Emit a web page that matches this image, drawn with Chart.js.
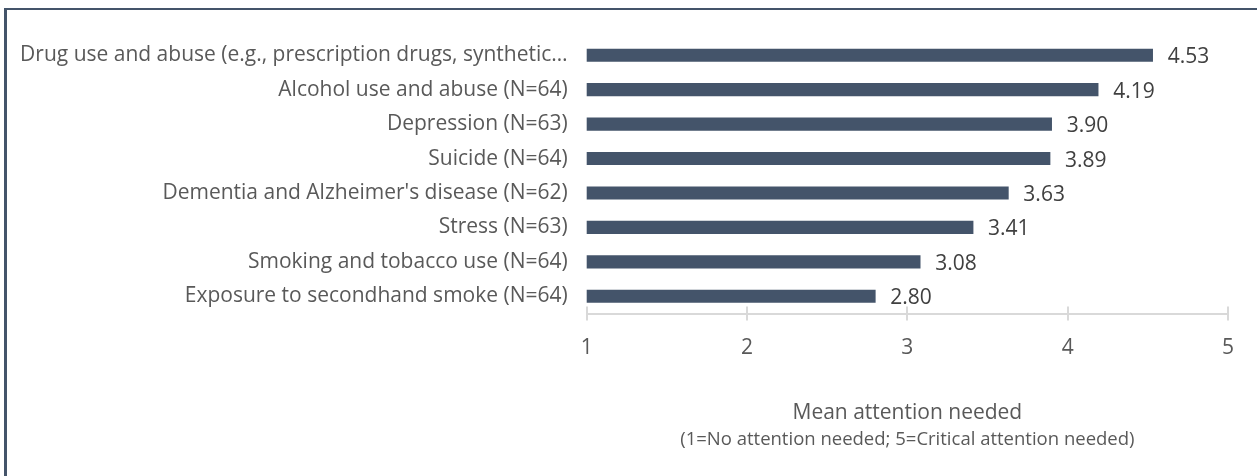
<!DOCTYPE html>
<html>
<head>
<meta charset="utf-8">
<script src="https://cdn.jsdelivr.net/npm/chart.js@4.4.1/dist/chart.umd.min.js"></script>
<style>
  html, body { margin: 0; padding: 0; background: #fff; overflow: hidden; }
  #wrap { position: relative; width: 1257px; height: 476px; }
  #frame {
    position: absolute; left: 4px; top: 8px; width: 1300px; height: 520px;
    border-left: 3px solid #44546A; border-top: 2px solid #44546A;
    box-sizing: border-box; pointer-events: none;
  }
  canvas { position: absolute; left: 0; top: 0; }
</style>
</head>
<body>
<div id="wrap">
  <canvas id="attentionChart" width="1257" height="476"></canvas>
  <div id="frame"></div>
</div>
<script>
// Mean attention needed per health issue (top to bottom as shown)
const issueLabels = [
    'Drug use and abuse (e.g., prescription drugs, synthetic\u2026',
    'Alcohol use and abuse (N=64)',
    'Depression (N=63)',
    'Suicide (N=64)',
    "Dementia and Alzheimer's disease (N=62)",
    'Stress (N=63)',
    'Smoking and tobacco use (N=64)',
    'Exposure to secondhand smoke (N=64)'
];
const meanScores = [4.53, 4.19, 3.90, 3.89, 3.63, 3.41, 3.08, 2.80];
const axisTicks = [1, 2, 3, 4, 5];
const axisTitle = 'Mean attention needed';
const axisSubtitle = '(1=No attention needed; 5=Critical attention needed)';

const FONT = '"Open Sans", Lato, sans-serif';

// value labels to the right of each bar
const barValueLabels = {
    id: 'barValueLabels',
    afterDatasetsDraw(chart) {
        const ctx = chart.ctx;
        const meta = chart.getDatasetMeta(0);
        ctx.save();
        ctx.font = '21px ' + FONT;
        ctx.fillStyle = '#404040';
        ctx.textBaseline = 'middle';
        ctx.textAlign = 'left';
        meta.data.forEach((bar, i) => {
            ctx.fillText(meanScores[i].toFixed(2), bar.x + 15, bar.y + 2);
        });
        ctx.restore();
    }
};

// Excel style cross tick marks + the small second title line
const axisExtras = {
    id: 'axisExtras',
    afterDraw(chart) {
        const ctx = chart.ctx;
        const xs = chart.scales.x;
        const yAxis = chart.chartArea.bottom;
        ctx.save();
        ctx.strokeStyle = '#d9d9d9';
        ctx.lineWidth = 2;
        axisTicks.forEach(v => {
            const px = Math.round(xs.getPixelForValue(v));
            ctx.beginPath();
            ctx.moveTo(px, yAxis - 7);
            ctx.lineTo(px, yAxis + 7);
            ctx.stroke();
        });
        ctx.font = '18.5px ' + FONT;
        ctx.fillStyle = '#595959';
        ctx.textAlign = 'center';
        ctx.textBaseline = 'middle';
        ctx.fillText(axisSubtitle, (chart.chartArea.left + chart.chartArea.right) / 2, xs.bottom - 36);
        ctx.restore();
    }
};

new Chart(document.getElementById('attentionChart'), {
    type: 'bar',
    data: {
        labels: issueLabels,
        datasets: [{
            data: meanScores,
            backgroundColor: '#44546A',
            borderWidth: 0,
            barThickness: 12.5
        }]
    },
    options: {
        indexAxis: 'y',
        responsive: false,
        animation: false,
        layout: { padding: { left: 0, top: 38, right: 29, bottom: 0 } },
        plugins: {
            legend: { display: false },
            tooltip: { enabled: false }
        },
        scales: {
            x: {
                min: 1,
                max: 5,
                afterBuildTicks: scale => { scale.ticks = axisTicks.map(v => ({ value: v })); },
                afterFit: scale => { scale.height = 162.5; },
                grid: { display: false, drawTicks: false, tickLength: 0 },
                border: { display: true, color: '#d9d9d9', width: 2 },
                ticks: {
                    padding: 22,
                    color: '#595959',
                    font: { family: FONT, size: 21 }
                },
                title: {
                    display: true,
                    text: axisTitle,
                    color: '#595959',
                    font: { family: FONT, size: 21 },
                    padding: { top: 0, bottom: 50 }
                }
            },
            y: {
                afterFit: scale => { scale.width = 586.7; },
                grid: { display: false, drawTicks: false, tickLength: 0 },
                border: { display: false },
                ticks: {
                    padding: 19,
                    color: '#595959',
                    font: { family: FONT, size: 21 }
                }
            }
        }
    },
    plugins: [barValueLabels, axisExtras]
});
</script>
</body>
</html>
